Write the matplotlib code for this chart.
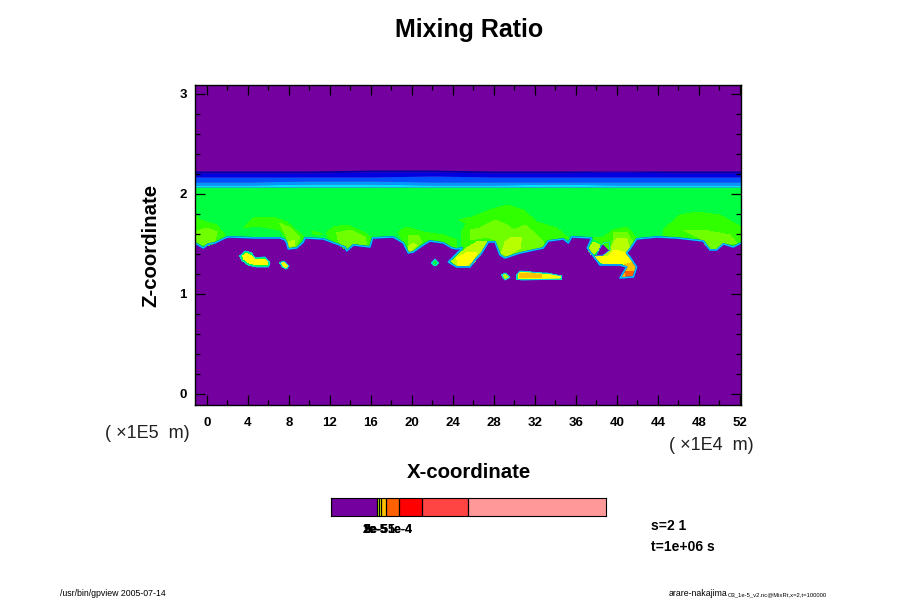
import matplotlib
matplotlib.use("Agg")
import matplotlib.pyplot as plt
from matplotlib.ticker import MultipleLocator

plt.rcParams["font.family"] = ["Liberation Sans", "DejaVu Sans"]

# x in units of 1E4 m, z in units of 1E5 m
band_x = [-1.17, 4, 10, 16, 22, 28, 34, 40, 46, 52.1]
band_edges = [
    [2.23, 2.23, 2.23, 2.24, 2.24, 2.23, 2.23, 2.23, 2.23, 2.23],
    [2.21, 2.21, 2.21, 2.22, 2.22, 2.21, 2.21, 2.22, 2.21, 2.21],
    [2.17, 2.17, 2.17, 2.17, 2.18, 2.17, 2.17, 2.17, 2.17, 2.17],
    [2.12, 2.12, 2.13, 2.13, 2.12, 2.12, 2.12, 2.12, 2.12, 2.12],
    [2.09, 2.09, 2.10, 2.10, 2.09, 2.09, 2.10, 2.09, 2.09, 2.09],
    [2.07, 2.07, 2.07, 2.07, 2.07, 2.07, 2.07, 2.07, 2.07, 2.07],
    [2.04, 2.04, 2.05, 2.04, 2.04, 2.04, 2.04, 2.04, 2.04, 2.04],
]
band_colors = ["#0000a8", "#0000e0", "#0050ff", "#0098ff", "#00e0ff", "#00ffa0"]

cloud_base = [(-1.17, 1.51), (-0.85, 1.49), (-0.36, 1.46), (0.13, 1.50), (0.78, 1.51), (1.75, 1.56),
              (2.08, 1.57), (4.84, 1.56), (7.12, 1.56), (7.61, 1.54), (7.77, 1.51), (7.93, 1.45),
              (8.75, 1.46), (9.40, 1.52), (9.56, 1.56), (11.35, 1.55), (12.65, 1.50), (13.46, 1.47),
              (13.63, 1.43), (14.27, 1.49), (15.90, 1.47), (16.16, 1.56), (18.18, 1.57), (19.15, 1.51),
              (19.64, 1.41), (20.13, 1.42), (21.10, 1.49), (21.75, 1.53), (23.06, 1.51), (23.9, 1.46),
              (24.36, 1.45), (24.9, 1.46), (23.54, 1.32), (24.36, 1.27), (25.66, 1.27), (26.15, 1.34),
              (26.8, 1.41), (27.45, 1.52), (28.1, 1.52), (28.59, 1.39), (29.07, 1.36), (30.54, 1.41),
              (32.81, 1.46), (33.3, 1.53), (34.77, 1.55), (35.25, 1.51), (35.58, 1.57), (37.53, 1.56),
              (37.1, 1.46), (37.69, 1.38), (38.34, 1.29), (40.29, 1.29), (40.94, 1.27), (40.29, 1.16),
              (41.6, 1.17), (41.92, 1.27), (41.27, 1.37), (40.94, 1.41), (41.27, 1.45), (41.92, 1.55),
              (43.87, 1.57), (45.82, 1.56), (48.42, 1.53), (49.07, 1.44), (49.72, 1.44), (50.37, 1.50),
              (51.35, 1.47), (52.1, 1.51)]
cloud_top = 2.05
cloud_hole = [(38.41, 1.47), (38.67, 1.51), (39.25, 1.52), (39.32, 1.44), (38.67, 1.39), (37.95, 1.38)]

level1 = [
    [(-1.17, 1.79), (-0.68, 1.74), (0.94, 1.69), (1.75, 1.59), (1.75, 1.56), (0.78, 1.51), (-0.36, 1.47), (-1.17, 1.51)],
    [(3.54, 1.66), (4.52, 1.76), (6.47, 1.77), (7.77, 1.72), (8.91, 1.62), (9.4, 1.57), (8.75, 1.47), (7.93, 1.46), (7.71, 1.56), (7.12, 1.64), (4.84, 1.68)],
    [(10.2, 1.63), (11.0, 1.61), (11.3, 1.59), (10.4, 1.60)],
    [(11.67, 1.61), (12.32, 1.67), (13.63, 1.69), (15.25, 1.62), (16.06, 1.56), (15.9, 1.48), (14.27, 1.50), (13.63, 1.44), (12.65, 1.51), (11.84, 1.56)],
    [(18.67, 1.62), (19.48, 1.67), (21.1, 1.62), (23.06, 1.59), (24.36, 1.54), (24.36, 1.46), (23.06, 1.51), (21.43, 1.53), (20.13, 1.43), (19.64, 1.41), (19.15, 1.51)],
    [(24.68, 1.74), (25.66, 1.77), (25.66, 1.69)],
    [(25.66, 1.76), (27.61, 1.84), (29.24, 1.89), (30.86, 1.84), (32.16, 1.72), (34.11, 1.66), (35.25, 1.56), (33.3, 1.53), (32.81, 1.46), (30.54, 1.41), (29.07, 1.37), (28.59, 1.40), (28.1, 1.52), (27.45, 1.52), (26.8, 1.41), (25.66, 1.31), (24.9, 1.46), (24.8, 1.62)],
    [(38.67, 1.57), (39.64, 1.64), (40.94, 1.67), (41.92, 1.56), (41.27, 1.45), (39.32, 1.44), (38.5, 1.51), (37.53, 1.57)],
    [(44.52, 1.64), (46.15, 1.79), (47.77, 1.82), (50.05, 1.79), (52.1, 1.67), (52.1, 1.51), (51.35, 1.47), (50.37, 1.50), (48.42, 1.53), (45.82, 1.56), (44.52, 1.58)],
]
level2 = [
    [(-1.17, 1.62), (0.0, 1.66), (1.0, 1.62), (0.78, 1.53), (-0.36, 1.49), (-1.17, 1.53)],
    [(7.12, 1.71), (8.1, 1.66), (9.07, 1.57), (8.68, 1.48), (7.93, 1.46), (7.77, 1.57)],
    [(12.65, 1.61), (13.95, 1.64), (15.41, 1.57), (15.58, 1.49), (14.27, 1.51), (13.63, 1.46), (12.81, 1.53)],
    [(19.64, 1.59), (20.62, 1.59), (20.94, 1.52), (20.13, 1.44), (19.64, 1.42)],
    [(28.1, 1.74), (29.24, 1.69), (29.89, 1.64), (31.03, 1.69), (31.84, 1.62), (32.88, 1.51), (32.65, 1.46), (30.54, 1.41), (29.07, 1.37), (28.65, 1.41), (28.1, 1.54), (27.29, 1.57), (25.66, 1.54), (25.66, 1.64), (26.64, 1.66)],
    [(39.64, 1.61), (40.94, 1.62), (41.6, 1.51), (41.27, 1.45), (39.32, 1.44), (39.64, 1.54)],
    [(46.47, 1.64), (48.42, 1.64), (51.03, 1.59), (51.67, 1.51), (50.37, 1.50), (49.56, 1.44), (48.91, 1.46), (48.09, 1.56)],
]
level3 = [
    [(7.93, 1.52), (8.58, 1.54), (8.49, 1.49), (7.93, 1.47)],
    [(19.64, 1.47), (20.13, 1.51), (20.45, 1.49), (19.8, 1.42)],
    [(28.75, 1.41), (29.07, 1.52), (29.73, 1.57), (30.7, 1.56), (30.54, 1.46), (29.24, 1.38)],
    [(23.9, 1.33), (25.2, 1.45), (26.47, 1.53), (27.29, 1.52), (26.8, 1.41), (26.15, 1.33), (25.66, 1.28), (24.36, 1.27)],
    [(37.2, 1.44), (37.7, 1.52), (38.34, 1.49), (38.18, 1.44), (37.53, 1.39)],
    [(39.48, 1.47), (39.97, 1.56), (40.94, 1.56), (41.2, 1.46), (40.94, 1.41), (39.8, 1.44), (39.16, 1.38), (38.67, 1.38), (39.48, 1.44)],
]
level4 = [
    [(24.36, 1.36), (25.5, 1.42), (26.31, 1.41), (25.82, 1.32), (25.3, 1.29), (24.52, 1.28)],
    [(37.69, 1.38), (39.16, 1.38), (39.8, 1.44), (40.94, 1.41), (41.43, 1.32), (40.94, 1.29), (40.29, 1.31), (38.67, 1.30)],
]
level5 = [[(40.78, 1.29), (41.6, 1.32), (41.82, 1.27), (41.66, 1.18), (40.36, 1.16), (40.94, 1.27)]]
level6 = [[(40.78, 1.22), (41.6, 1.23), (41.6, 1.19), (40.94, 1.17)]]

# isolated patches below the cloud
blob_a = [(3.22, 1.38), (3.71, 1.43), (4.36, 1.41), (4.68, 1.36), (5.66, 1.37), (6.14, 1.31), (5.98, 1.27), (4.84, 1.27), (4.03, 1.29), (3.38, 1.34)]
blob_a_core = [(3.5, 1.38), (3.85, 1.41), (4.3, 1.38), (4.7, 1.34), (5.6, 1.35), (5.95, 1.31), (5.8, 1.29), (4.9, 1.29), (4.1, 1.31), (3.6, 1.35)]
blob_b = [(7.12, 1.31), (7.51, 1.33), (8.0, 1.28), (7.71, 1.25), (7.38, 1.27)]
blob_b_core = [(7.3, 1.31), (7.55, 1.32), (7.9, 1.28), (7.7, 1.26), (7.45, 1.28)]
blob_c = [(21.92, 1.31), (22.24, 1.35), (22.57, 1.31), (22.24, 1.28)]
blob_d = [(28.75, 1.19), (29.07, 1.21), (29.56, 1.17), (29.07, 1.14)]
blob_d_core = [(28.9, 1.19), (29.07, 1.20), (29.4, 1.17), (29.07, 1.15)]
blob_e = [(30.21, 1.19), (30.54, 1.23), (32.65, 1.21), (33.14, 1.21), (34.6, 1.18), (34.6, 1.15), (30.7, 1.14), (30.21, 1.15)]
blob_e_core = [(30.35, 1.19), (30.6, 1.22), (32.65, 1.20), (33.14, 1.20), (34.45, 1.18), (34.45, 1.16), (30.7, 1.15), (30.35, 1.16)]
blob_e_inner = [(30.47, 1.20), (31.51, 1.21), (32.65, 1.19), (32.65, 1.16), (30.47, 1.16)]

level_colors = ["#00ff40", "#30ff00", "#70ff00", "#b8ff00", "#ffff00", "#ffc000", "#ff6000"]

x_ticks = list(range(0, 53, 4))
z_ticks = [0, 1, 2, 3]

bar_edges = [0, 0.168, 0.175, 0.182, 0.2, 0.248, 0.331, 0.498, 1]
bar_colors = ["#7400a0", "#c8ff00", "#ffff00", "#ffc000", "#ff6000", "#ff0000", "#ff4444", "#ff9999"]
bar_labels = [("1e-5", 375), ("2e-5", 375.5), ("3e-5", 376), ("5e-5", 376), ("1e-4", 400), ("5e-4", 400)]


def poly(ax, pts, color, **kw):
    xs = [p[0] for p in pts]
    zs = [p[1] for p in pts]
    ax.fill(xs, zs, color=color, antialiased=False, lw=0, **kw)


def outline(ax, pts, color, width):
    xs = [p[0] for p in pts]
    zs = [p[1] for p in pts]
    ax.plot(xs, zs, color=color, lw=width, solid_joinstyle="round")


fig = plt.figure(figsize=(9, 6), dpi=100)
ax = fig.add_axes([195 / 900, 195 / 600, 546 / 900, 320 / 600])
purple = "#7400a0"
ax.set_facecolor(purple)

for i, c in enumerate(band_colors):
    ax.fill_between(band_x, band_edges[i + 1], band_edges[i], color=c, lw=0, antialiased=False)

body = [(-1.17, cloud_top + 0.01), (52.1, cloud_top + 0.01)] + cloud_base[::-1]
outline(ax, cloud_base, "#0040f0", 1.3)
outline(ax, cloud_base, "#00d0ff", 0.9)
poly(ax, body, level_colors[0])
poly(ax, cloud_hole, purple)
outline(ax, cloud_hole + cloud_hole[:1], "#00d0ff", 0.5)

for shapes, c in zip([level1, level2, level3, level4, level5, level6], level_colors[1:]):
    for s in shapes:
        poly(ax, s, c)

for b in [blob_a, blob_b, blob_c, blob_d, blob_e]:
    outline(ax, b + b[:1], "#00c8ff", 0.7)
    poly(ax, b, level_colors[0])
poly(ax, blob_a_core, "#ffff00")
poly(ax, blob_b_core, "#ffff00")
poly(ax, blob_d_core, "#b8ff00")
poly(ax, blob_e_core, "#ffff00")
poly(ax, blob_e_inner, "#ffc000")

ax.set_xlim(-1.17, 52.1)
ax.set_ylim(-0.11, 3.09)
ax.set_xticks(x_ticks)
ax.set_yticks(z_ticks)
ax.xaxis.set_minor_locator(MultipleLocator(2))
ax.yaxis.set_minor_locator(MultipleLocator(0.2))
ax.tick_params(which="major", direction="in", length=7.2, width=0.9, top=True, right=True, labelsize=9.5)
ax.tick_params(which="minor", direction="in", length=3.6, width=0.9, top=True, right=True)
ax.tick_params(axis="x", which="major", pad=9)
ax.tick_params(axis="y", which="major", pad=6)
for lab in ax.get_xticklabels() + ax.get_yticklabels():
    lab.set_fontweight("bold")
for sp in ax.spines.values():
    sp.set_linewidth(1.0)
    sp.set_zorder(5)

fig.text(469 / 900, 1 - 30 / 600, "Mixing Ratio", ha="center", va="center", fontsize=18, fontweight="bold")
fig.text(469 / 900, 1 - 472 / 600, "X-coordinate", ha="center", va="center", fontsize=14.7, fontweight="bold")
fig.text(151 / 900, 1 - 245 / 600, "Z-coordinate", ha="center", va="center", rotation=90, fontsize=14.7, fontweight="bold")
fig.text(105 / 900, 1 - 433 / 600, "( ×1E5  m)", ha="left", va="center", fontsize=13, color="#222222", fontweight="light")
fig.text(669 / 900, 1 - 446 / 600, "( ×1E4  m)", ha="left", va="center", fontsize=13, color="#222222", fontweight="light")

cax = fig.add_axes([331 / 900, 84 / 600, 275 / 900, 18 / 600])
for i, c in enumerate(bar_colors):
    cax.axvspan(bar_edges[i], bar_edges[i + 1], color=c, lw=0)
    cax.axvline(bar_edges[i], color="black", lw=0.9)
cax.set_xlim(0, 1)
cax.set_ylim(0, 1)
cax.set_xticks([])
cax.set_yticks([])

for text, px in bar_labels:
    fig.text(px / 900, 1 - 530 / 600, text, ha="center", va="center", fontsize=9, fontweight="bold")

fig.text(651 / 900, 1 - 526 / 600, "s=2 1", ha="left", va="center", fontsize=10, fontweight="bold")
fig.text(651 / 900, 1 - 547 / 600, "t=1e+06 s", ha="left", va="center", fontsize=10, fontweight="bold")
fig.text(60 / 900, 1 - 593 / 600, "/usr/bin/gpview 2005-07-14", ha="left", va="center", fontsize=6.3)
fig.text(669 / 900, 1 - 594 / 600, "arare-nakajima", ha="left", va="center", fontsize=6.3)
fig.text(728 / 900, 1 - 595 / 600, "O3_1e-5_v2.nc@MixRt,x=2,t=100000", ha="left", va="center", fontsize=4.2)

fig.savefig("out.png", dpi=100)
